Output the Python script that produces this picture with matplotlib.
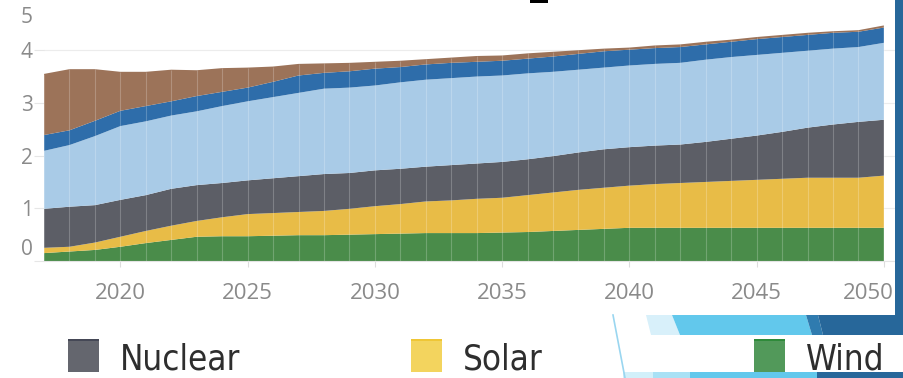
import matplotlib
matplotlib.use("Agg")
import matplotlib.pyplot as plt
from matplotlib import font_manager
from matplotlib.font_manager import FontProperties
from matplotlib.patches import Rectangle, Polygon
from matplotlib.lines import Line2D
from matplotlib.transforms import ScaledTranslation

# generation by source, stacked bottom to top (same units as the y axis)
years = list(range(2017, 2051))
wind = [0.15, 0.18, 0.21, 0.27, 0.34, 0.40, 0.46, 0.47, 0.47, 0.48, 0.49, 0.49,
        0.50, 0.51, 0.52, 0.53, 0.53, 0.53, 0.54, 0.55, 0.57, 0.59, 0.61, 0.63,
        0.63, 0.63, 0.63, 0.63, 0.63, 0.63, 0.63, 0.63, 0.63, 0.63]
solar = [0.10, 0.09, 0.14, 0.19, 0.23, 0.27, 0.30, 0.36, 0.42, 0.43, 0.44, 0.46,
         0.49, 0.53, 0.56, 0.60, 0.62, 0.65, 0.66, 0.70, 0.73, 0.76, 0.78, 0.80,
         0.83, 0.85, 0.87, 0.89, 0.91, 0.93, 0.95, 0.95, 0.95, 0.99]
nuclear = [0.74, 0.76, 0.71, 0.70, 0.68, 0.70, 0.68, 0.65, 0.64, 0.66, 0.68, 0.70,
           0.68, 0.68, 0.67, 0.66, 0.67, 0.67, 0.68, 0.68, 0.69, 0.71, 0.73, 0.73,
           0.73, 0.73, 0.76, 0.80, 0.84, 0.89, 0.95, 1.01, 1.06, 1.06]
gas = [1.10, 1.17, 1.31, 1.40, 1.40, 1.39, 1.40, 1.46, 1.50, 1.54, 1.58, 1.62,
       1.62, 1.61, 1.64, 1.65, 1.65, 1.65, 1.64, 1.63, 1.60, 1.57, 1.55, 1.55,
       1.55, 1.55, 1.56, 1.55, 1.53, 1.50, 1.46, 1.44, 1.42, 1.46]
hydro = [0.30, 0.28, 0.29, 0.29, 0.29, 0.27, 0.29, 0.27, 0.26, 0.29, 0.33, 0.30,
         0.31, 0.32, 0.29, 0.29, 0.29, 0.28, 0.28, 0.28, 0.29, 0.30, 0.31, 0.30,
         0.30, 0.30, 0.29, 0.29, 0.30, 0.30, 0.30, 0.30, 0.29, 0.29]
coal = [1.16, 1.16, 0.98, 0.74, 0.65, 0.60, 0.49, 0.45, 0.38, 0.29, 0.22, 0.18,
        0.16, 0.13, 0.12, 0.10, 0.10, 0.11, 0.10, 0.10, 0.09, 0.07, 0.05, 0.04,
        0.05, 0.05, 0.05, 0.04, 0.04, 0.04, 0.04, 0.03, 0.03, 0.04]

xtick_years = [2020, 2025, 2030, 2035, 2040, 2045, 2050]
legend_labels = ["Nuclear", "Solar", "Wind"]

area_colors = ["#4a8c4a", "#e8bc47", "#5c5e66", "#a9cbe7", "#2e6daa", "#9c7359"]
swatch_face = ["#64666e", "#f3d45e", "#52995a"]
swatch_top = ["#454856", "#efc636", "#2f8a3a"]

fonts = {f.name for f in font_manager.fontManager.ttflist}
tick_font = "Open Sans" if "Open Sans" in fonts else "DejaVu Sans"

# legend text wants a narrow face; fall back to a smaller regular one
narrow = [f.fname for f in font_manager.fontManager.ttflist
          if ("Narrow" in f.fname or "Condensed" in f.fname)
          and "Bold" not in f.fname and "Italic" not in f.fname
          and "Oblique" not in f.fname and "Mono" not in f.fname
          and "Serif" not in f.fname and "Light" not in f.fname
          and "Medium" not in f.fname and "Semi" not in f.fname
          and "Thin" not in f.fname and "Black" not in f.fname
          and "Extra" not in f.fname]
if narrow:
    legend_prop = FontProperties(fname=sorted(narrow)[0], size=25)
else:
    legend_prop = FontProperties(family="Liberation Sans", size=23.5)

W, H = 904, 378
fig = plt.figure(figsize=(W / 100, H / 100), dpi=100)
fig.patch.set_facecolor("white")


def fx(x):
    return x / W


def fy(y):
    return 1 - y / H


ax = fig.add_axes([fx(44), fy(261), (895 - 44) / W, 261 / H])
ax.stackplot(years, wind, solar, nuclear, gas, hydro, coal,
             colors=area_colors, linewidth=0)

# faint white seams at each year
totals = [sum(v) for v in zip(wind, solar, nuclear, gas, hydro, coal)]
ax.vlines(years, 0, totals, colors="white", alpha=0.22, linewidth=0.8)

ax.set_xlim(2017, 2017 + 851 / 25.45)
ax.set_ylim(0, 261 / 52.7)

for s in ["top", "right", "left"]:
    ax.spines[s].set_visible(False)
ax.spines["bottom"].set_color("#e4e4e4")

ax.set_axisbelow(True)
ax.set_yticks([0, 1, 2, 3, 4], ["", "1", "2", "3", "4"])
ax.set_yticks([0.26, 4.67], ["0", "5"], minor=True)
ax.yaxis.grid(True, which="major", color="#ececec", linewidth=0.8)
ax.tick_params(axis="y", which="major", length=7, color="#e6e6e6", pad=1,
               labelsize=15, labelcolor="#8a8a8a")
ax.tick_params(axis="y", which="minor", length=0, pad=8,
               labelsize=15, labelcolor="#8a8a8a")

ax.set_xticks(xtick_years, [str(y) for y in xtick_years])
ax.tick_params(axis="x", length=4, color="#dddddd", pad=12,
               labelsize=16, labelcolor="#8a8a8a")
for lab in ax.get_xticklabels() + ax.get_yticklabels() + ax.get_yticklabels(minor=True):
    lab.set_family(tick_font)

# nudge the end label in so it clears the frame
last = ax.get_xticklabels()[-1]
last.set_transform(last.get_transform() + ScaledTranslation(-16 / 100, 0, fig.dpi_scale_trans))


def add_poly(pts, color):
    fig.add_artist(Polygon([(fx(x), fy(y)) for x, y in pts], closed=True,
                           facecolor=color, edgecolor="none",
                           transform=fig.transFigure, zorder=2))


# slide frame around the chart
add_poly([(895, 0), (904, 0), (904, 315), (895, 315)], "#27679a")
add_poly([(646, 315), (672, 315), (680, 335), (651, 335)], "#d8f0fa")
add_poly([(672, 315), (806, 315), (812, 335), (680, 335)], "#62c8ec")
add_poly([(806, 315), (818, 315), (823, 335), (812, 335)], "#2f7baf")
add_poly([(818, 315), (904, 315), (904, 335), (823, 335)], "#27679a")
add_poly([(623, 372), (653, 372), (653, 378), (623, 378)], "#d2f0fa")
add_poly([(653, 372), (690, 372), (690, 378), (653, 378)], "#a9e1f5")
add_poly([(690, 372), (817, 372), (817, 378), (690, 378)], "#62c8ec")
add_poly([(817, 372), (904, 372), (904, 378), (817, 378)], "#27679a")
fig.add_artist(Line2D([fx(613), fx(625)], [fy(315), fy(378)], color="#9ad6f0",
                      linewidth=1.2, transform=fig.transFigure, zorder=2))
add_poly([(530, 0), (548, 0), (548, 3), (530, 3)], "black")

# legend row
for i, (label, face, top) in enumerate(zip(legend_labels, swatch_face, swatch_top)):
    x0 = 68 + i * 343
    fig.add_artist(Rectangle((fx(x0), fy(372)), 31 / W, 33 / H, facecolor=face,
                             edgecolor="none", transform=fig.transFigure, zorder=3))
    fig.add_artist(Rectangle((fx(x0), fy(341)), 31 / W, 2 / H, facecolor=top,
                             edgecolor="none", transform=fig.transFigure, zorder=3))
    fig.text(fx(x0 + 52), fy(370), label, fontproperties=legend_prop,
             color="#2e2e2e", va="baseline", ha="left", zorder=3)

fig.savefig("out.png", dpi=100)
